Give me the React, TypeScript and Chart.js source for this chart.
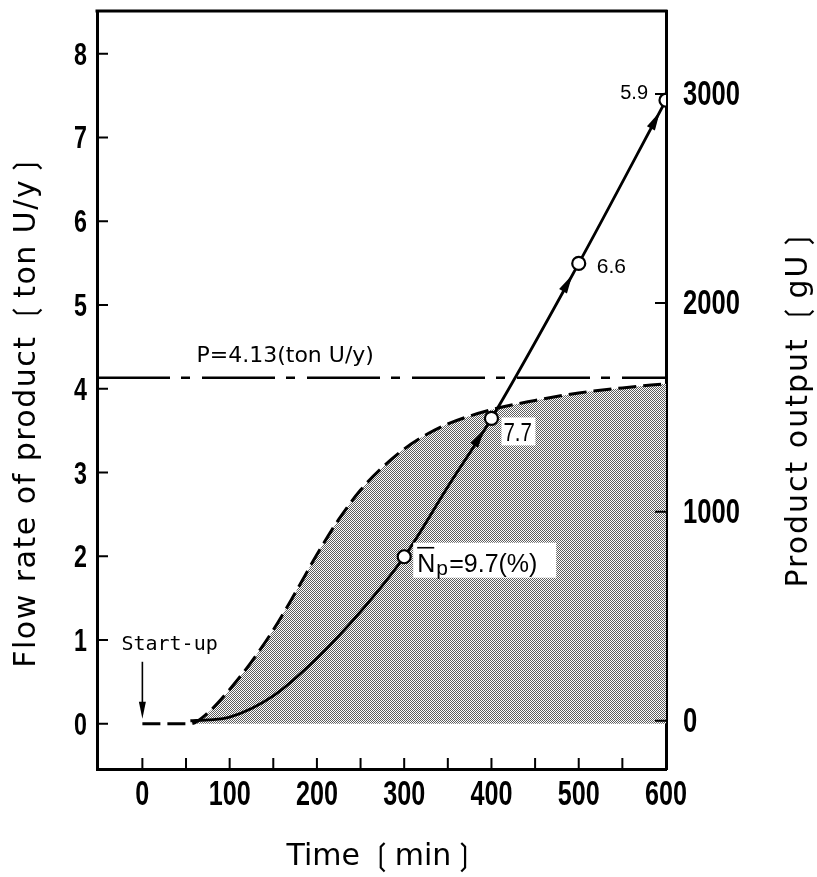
import React, { useEffect, useRef } from "react";
import { Chart, registerables } from "chart.js";

Chart.register(...registerables);

// ---------- axes ----------
const X_MIN = -52;
const X_MAX = 600;
const Y_MIN = -0.54;
const Y_MAX = 8.51;
const G_MIN = -231;
const G_MAX = 3397;
const X_TICKS = [0, 50, 100, 150, 200, 250, 300, 350, 400, 450, 500, 550, 600];
const X_LABELED = [0, 100, 200, 300, 400, 500, 600];
const Y_TICKS = [0, 1, 2, 3, 4, 5, 6, 7, 8];
const G_TICKS = [0, 1000, 2000, 3000];

// ---------- data ----------
// flow rate of product (ton U/y), dashed curve, left axis
const FLOW_T = [0, 55, 75, 100, 125, 150, 175, 200, 225, 250, 275, 300, 325, 350, 400, 450, 500, 550, 600];
const FLOW_Y = [0, 0, 0.13, 0.41, 0.74, 1.12, 1.56, 2.02, 2.44, 2.79, 3.06, 3.28, 3.45, 3.58, 3.75, 3.86, 3.95, 4.01, 4.06];

// product output (gU), solid curve, right axis
const CUM_T = [55, 75, 100, 150, 200, 250, 300, 350, 400, 500, 600];
const CUM_G = [0, 4, 17, 119, 299, 522, 785, 1120, 1447, 2189, 2970];

// sampled points (circles)
const MARK_T = [300, 400, 500, 600];
const MARK_G = [785, 1447, 2189, 2970];
const MARK_LABELS = ["=9.7(%)", "7.7", "6.6", "5.9"];
const NP_MAIN = "N";
const NP_SUB = "p";

const P_VALUE = 4.13;
const P_LABEL = "P=4.13(ton U/y)";
const P_LABEL_T = 62;
const START_T = 0;
const START_LABEL = "Start-up";

const X_TITLE = "Time ❲min❳";
const Y_TITLE = "Flow rate of product ❲ton U/y❳";
const G_TITLE = "Product output ❲gU❳";

const NUM_FONT = "'Liberation Sans', 'Arimo', sans-serif";
const TXT_FONT = "'Liberation Sans', 'DejaVu Sans', sans-serif";
const TITLE_FONT = "'DejaVu Sans', 'Liberation Sans', sans-serif";

function makePattern(): CanvasPattern | string {
  const c = document.createElement("canvas");
  c.width = 2;
  c.height = 2;
  const g = c.getContext("2d");
  if (!g) return "#b0b0b0";
  g.fillStyle = "#fff";
  g.fillRect(0, 0, 2, 2);
  g.fillStyle = "#5e5e5e";
  g.fillRect(0, 0, 1, 1);
  g.fillRect(1, 1, 1, 1);
  const p = g.createPattern(c, "repeat");
  return p || "#b0b0b0";
}

function arrowHead(ctx: CanvasRenderingContext2D, tx: number, ty: number, ux: number, uy: number, len: number, hw: number) {
  const bx = tx - ux * len;
  const by = ty - uy * len;
  const px = -uy;
  const py = ux;
  ctx.beginPath();
  ctx.moveTo(tx, ty);
  ctx.lineTo(bx + px * hw, by + py * hw);
  ctx.lineTo(bx - px * hw, by - py * hw);
  ctx.closePath();
  ctx.fill();
}

function drawNum(ctx: CanvasRenderingContext2D, text: string, x: number, y: number, size: number, sx: number, align: CanvasTextAlign, weight = "normal") {
  ctx.save();
  ctx.font = `${weight} ${size}px ${NUM_FONT}`;
  ctx.textAlign = align;
  ctx.textBaseline = "alphabetic";
  ctx.translate(x, y);
  ctx.scale(sx, 1);
  ctx.fillText(text, 0, 0);
  ctx.restore();
}

const decor = {
  id: "decor",
  afterDatasetsDraw(chart: any) {
    const { ctx, scales } = chart;
    const xs = scales.x;
    const ys = scales.y;
    ctx.save();
    ctx.fillStyle = "#000";
    ctx.strokeStyle = "#000";

    // arrowheads along the product output line
    const cumMeta = chart.getDatasetMeta(1);
    const markMeta = chart.getDatasetMeta(0);
    for (let i = 1; i < MARK_T.length; i++) {
      const endEl = markMeta.data[i];
      const idx = CUM_T.indexOf(MARK_T[i]);
      const prevEl = cumMeta.data[idx - 1];
      const dx = endEl.x - prevEl.x;
      const dy = endEl.y - prevEl.y;
      const d = Math.hypot(dx, dy);
      const ux = dx / d;
      const uy = dy / d;
      arrowHead(ctx, endEl.x - ux * 13, endEl.y - uy * 13, ux, uy, 19, 4.5);
    }

    // labels at sampled points
    const m = markMeta.data.map((e: any) => ({ x: e.x, y: e.y }));
    // N̄p = 9.7(%)
    ctx.fillStyle = "#fff";
    ctx.fillRect(m[0].x + 9, m[0].y - 14, 143, 35);
    ctx.fillStyle = "#000";
    ctx.textBaseline = "alphabetic";
    ctx.textAlign = "left";
    ctx.font = `25px ${TXT_FONT}`;
    const nx = m[0].x + 13;
    const nb = m[0].y + 15;
    ctx.fillText(NP_MAIN, nx, nb);
    const wN = ctx.measureText(NP_MAIN).width;
    ctx.lineWidth = 1.6;
    ctx.beginPath();
    ctx.moveTo(nx, nb - 24);
    ctx.lineTo(nx + wN - 1, nb - 24);
    ctx.stroke();
    ctx.font = `21px ${TXT_FONT}`;
    ctx.fillText(NP_SUB, nx + wN + 1, nb + 3);
    ctx.font = `25px ${TXT_FONT}`;
    ctx.fillText(MARK_LABELS[0], m[0].x + 45, nb);

    // 7.7
    ctx.fillStyle = "#fff";
    ctx.fillRect(m[1].x + 10, m[1].y - 1, 34, 28);
    ctx.fillStyle = "#000";
    drawNum(ctx, MARK_LABELS[1], m[1].x + 12, m[1].y + 23, 25, 0.82, "left");
    // 6.6
    ctx.font = `21px ${TXT_FONT}`;
    ctx.textAlign = "left";
    ctx.fillText(MARK_LABELS[2], m[2].x + 18, m[2].y + 10);
    // 5.9
    ctx.font = `20px ${TXT_FONT}`;
    ctx.textAlign = "right";
    ctx.fillText(MARK_LABELS[3], m[3].x - 18, m[3].y - 1);

    // P label
    ctx.textAlign = "left";
    ctx.font = `22px ${TITLE_FONT}`;
    ctx.fillText(P_LABEL, xs.getPixelForValue(P_LABEL_T), ys.getPixelForValue(P_VALUE) - 16);

    // Start-up annotation
    const x0 = xs.getPixelForValue(START_T);
    const y0 = ys.getPixelForValue(0);
    ctx.font = `20px 'DejaVu Sans Mono', monospace`;
    ctx.fillText(START_LABEL, x0 - 21, y0 - 74);
    ctx.lineWidth = 1.6;
    ctx.beginPath();
    ctx.moveTo(x0, y0 - 62);
    ctx.lineTo(x0, y0 - 14);
    ctx.stroke();
    arrowHead(ctx, x0, y0 - 5, 0, 1, 17, 3.5);

    ctx.restore();
  },
  afterDraw(chart: any) {
    const { ctx, chartArea: ca, scales } = chart;
    const xs = scales.x;
    const ys = scales.y;
    const gs = scales.y2;
    ctx.save();
    ctx.strokeStyle = "#000";
    ctx.fillStyle = "#000";
    // top frame
    ctx.lineWidth = 3;
    ctx.beginPath();
    ctx.moveTo(ca.left - 1.5, ca.top);
    ctx.lineTo(ca.right + 1.5, ca.top);
    ctx.stroke();
    // inward ticks
    ctx.lineWidth = 2;
    ctx.beginPath();
    X_TICKS.forEach((v) => {
      if (v >= X_MAX) return;
      const px = xs.getPixelForValue(v);
      ctx.moveTo(px, ca.bottom);
      ctx.lineTo(px, ca.bottom - 11);
    });
    Y_TICKS.forEach((v) => {
      const py = ys.getPixelForValue(v);
      ctx.moveTo(ca.left, py);
      ctx.lineTo(ca.left + 11, py);
    });
    G_TICKS.forEach((v) => {
      const py = gs.getPixelForValue(v);
      ctx.moveTo(ca.right, py);
      ctx.lineTo(ca.right - 11, py);
    });
    ctx.stroke();

    // tick labels (condensed numerals)
    X_LABELED.forEach((v) => {
      drawNum(ctx, String(v), xs.getPixelForValue(v), ca.bottom + 36, 35, 0.72, "center", "bold");
    });
    Y_TICKS.forEach((v) => {
      drawNum(ctx, String(v), ca.left - 10, ys.getPixelForValue(v) + 11, 31, 0.75, "right", "bold");
    });
    G_TICKS.forEach((v) => {
      drawNum(ctx, String(v), ca.right + 17, gs.getPixelForValue(v) + 11, 35, 0.73, "left", "bold");
    });

    // vertical axis titles (both read bottom to top)
    ctx.font = `30px ${TITLE_FONT}`;
    ctx.textAlign = "center";
    ctx.textBaseline = "alphabetic";
    ctx.save();
    (ctx as any).letterSpacing = "1.5px";
    ctx.translate(35, 410);
    ctx.rotate(-Math.PI / 2);
    ctx.fillText(Y_TITLE, 0, 0);
    ctx.restore();
    ctx.save();
    (ctx as any).letterSpacing = "2px";
    ctx.translate(807, 407);
    ctx.rotate(-Math.PI / 2);
    ctx.fillText(G_TITLE, 0, 0);
    ctx.restore();
    ctx.restore();
  },
};

function fixBox(size: { width?: number; height?: number }) {
  return (s: any) => {
    if (size.width !== undefined) s.width = size.width;
    if (size.height !== undefined) s.height = size.height;
    s.paddingTop = 0;
    s.paddingBottom = 0;
    s.paddingLeft = 0;
    s.paddingRight = 0;
  };
}

export default function App() {
  const ref = useRef<HTMLCanvasElement | null>(null);
  useEffect(() => {
    if (!ref.current) return;
    const pattern = makePattern();
    const chart = new Chart(ref.current, {
      type: "line",
      data: {
        datasets: [
          {
            label: "samples",
            data: MARK_T.map((t, i) => ({ x: t, y: MARK_G[i] })),
            yAxisID: "y2",
            showLine: false,
            pointRadius: 6.5,
            pointBackgroundColor: "#fff",
            pointBorderColor: "#000",
            pointBorderWidth: 2.2,
          },
          {
            label: "Product output",
            data: CUM_T.map((t, i) => ({ x: t, y: CUM_G[i] })),
            yAxisID: "y2",
            borderColor: "#000",
            borderWidth: 2.8,
            pointRadius: 0,
            cubicInterpolationMode: "monotone",
            fill: false,
          },
          {
            label: "P",
            data: [
              { x: X_MIN, y: P_VALUE },
              { x: X_MAX, y: P_VALUE },
            ],
            yAxisID: "y",
            borderColor: "#000",
            borderWidth: 2.5,
            borderDash: [73, 11, 9, 12],
            pointRadius: 0,
            fill: false,
          },
          {
            label: "Flow rate",
            data: FLOW_T.map((t, i) => ({ x: t, y: FLOW_Y[i] })),
            yAxisID: "y",
            borderColor: "#000",
            borderWidth: 3,
            borderDash: [18, 7],
            pointRadius: 0,
            cubicInterpolationMode: "monotone",
            fill: "origin",
            backgroundColor: pattern as any,
          },
        ],
      },
      options: {
        animation: false,
        responsive: true,
        maintainAspectRatio: false,
        events: [],
        layout: { padding: { top: 11, left: 0, right: 0, bottom: 0 } },
        plugins: { legend: { display: false }, tooltip: { enabled: false } },
        scales: {
          x: {
            type: "linear",
            min: X_MIN,
            max: X_MAX,
            afterBuildTicks: (s: any) => {
              s.ticks = X_TICKS.map((v) => ({ value: v }));
            },
            afterFit: fixBox({ height: 108 }),
            grid: { display: false, drawTicks: false },
            border: { display: true, color: "#000", width: 3 },
            ticks: { display: false },
            title: {
              display: true,
              text: X_TITLE,
              color: "#000",
              font: { family: TITLE_FONT, size: 30 },
              padding: { top: 0, bottom: 2 },
            },
          },
          y: {
            type: "linear",
            position: "left",
            min: Y_MIN,
            max: Y_MAX,
            afterBuildTicks: (s: any) => {
              s.ticks = Y_TICKS.map((v) => ({ value: v }));
            },
            afterFit: fixBox({ width: 97 }),
            grid: { display: false, drawTicks: false },
            border: { display: true, color: "#000", width: 3 },
            ticks: { display: false },
          },
          y2: {
            type: "linear",
            position: "right",
            min: G_MIN,
            max: G_MAX,
            afterBuildTicks: (s: any) => {
              s.ticks = G_TICKS.map((v) => ({ value: v }));
            },
            afterFit: fixBox({ width: 151 }),
            grid: { display: false, drawTicks: false },
            border: { display: true, color: "#000", width: 3 },
            ticks: { display: false },
          },
        },
      },
      plugins: [decor],
    });
    return () => chart.destroy();
  }, []);

  return (
    <div style={{ position: "fixed", left: 0, top: 0, width: 817, height: 877, background: "#fff" }}>
      <canvas ref={ref} />
    </div>
  );
}
